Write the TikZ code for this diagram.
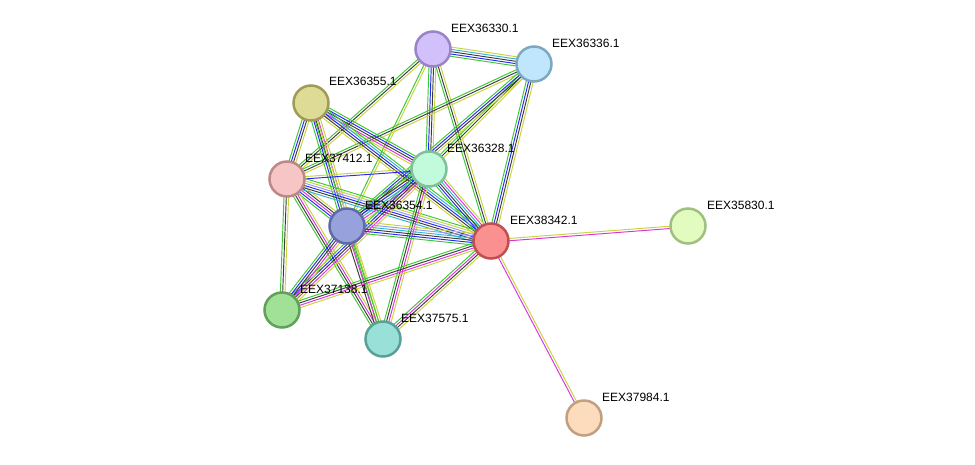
\documentclass[tikz,border=0pt]{standalone}
\usepackage{fontspec}
\setmainfont{Liberation Sans}
\usetikzlibrary{calc}
\definecolor{sg}{RGB}{60,200,50}
\definecolor{sb}{RGB}{40,40,250}
\definecolor{sk}{RGB}{60,60,60}
\definecolor{sy}{RGB}{200,212,60}
\definecolor{sm}{RGB}{220,50,220}
\definecolor{sc}{RGB}{50,180,210}
\definecolor{sl}{RGB}{150,150,255}
\newcommand\stredge[3]{%
  \foreach \cc [count=\ii] in {#3} {\global\let\ncnt\ii}%
  \foreach \cc [count=\ii] in {#3} {%
    \pgfmathsetmacro\off{(\ii-(\ncnt+1)/2)*2.3}%
    \draw[draw=\cc, line width=0.95pt] ($(#1)!\off pt!90:(#2)$) -- ($(#2)!\off pt!-90:(#1)$);
  }%
}
\tikzset{
  prot/.style={circle, line width=2.5pt, minimum size=35pt, inner sep=0pt},
  lbl/.style={anchor=west, font=\fontsize{12}{14}\selectfont, inner sep=0pt, text=black}
}
\begin{document}
\begin{tikzpicture}[x=1pt,y=-1pt]
\useasboundingbox (0,0) rectangle (975,464);
\fill[white] (0,0) rectangle (975,464);
\coordinate (A) at (433,49);
\coordinate (B) at (534,64);
\coordinate (C) at (311,103);
\coordinate (D) at (287,179);
\coordinate (E) at (429,169);
\coordinate (F) at (347,226);
\coordinate (G) at (491,241);
\coordinate (H) at (688,226);
\coordinate (I) at (282,310);
\coordinate (J) at (383,339);
\coordinate (K) at (584,418);
% edges
\stredge{A}{B}{sg,sb,sk,sc,sy}
\stredge{A}{D}{sg,sk,sy}
\stredge{A}{F}{sg,sy}
\stredge{A}{E}{sg,sb,sk,sy}
\stredge{A}{G}{sg,sk,sy}
\stredge{B}{D}{sg,sk,sy}
\stredge{B}{E}{sg,sk,sy}
\stredge{B}{F}{sg,sb,sk,sy}
\stredge{B}{G}{sg,sb,sk,sy}
\stredge{C}{D}{sg,sb,sk,sy}
\stredge{C}{F}{sg,sb,sk,sm,sy}
\stredge{C}{E}{sy,sm,sk,sb,sg}
\stredge{C}{G}{sy,sk,sb,sc,sg}
\stredge{C}{J}{sg,sy}
\stredge{D}{E}{sb,sy}
\stredge{D}{F}{sg,sb,sm,sk,sy}
\stredge{D}{G}{sc,sk,sb,sl,sy,sg}
\stredge{D}{I}{sg,sk,sy}
\stredge{D}{J}{sg,sk,sm,sy}
\stredge{E}{F}{sg,sk,sb,sc,sm,sy}
\stredge{E}{G}{sg,sb,sk,sc,sm,sy}
\stredge{E}{I}{sg,sb,sk,sm,sy}
\stredge{E}{J}{sg,sk,sm,sy}
\stredge{F}{G}{sg,sb,sk,sc,sl,sy}
\stredge{F}{I}{sg,sb,sk,sm,sy}
\stredge{F}{J}{sk,sm,sg,sy}
\stredge{G}{I}{sg,sk,sm,sy}
\stredge{G}{J}{sg,sm,sk,sy}
\stredge{G}{H}{sm,sy}
\stredge{G}{K}{sm,sy}
% nodes
\node[prot, fill={rgb,255:red,210;green,192;blue,250}, draw={rgb,255:red,154;green,132;blue,199}] (nA) at (A) {};
\node[prot, fill={rgb,255:red,192;green,230;blue,251}, draw={rgb,255:red,125;green,168;blue,196}] (nB) at (B) {};
\node[prot, fill={rgb,255:red,222;green,219;blue,150}, draw={rgb,255:red,160;green,156;blue,88}] (nC) at (C) {};
\node[prot, fill={rgb,255:red,246;green,198;blue,198}, draw={rgb,255:red,190;green,136;blue,136}] (nD) at (D) {};
\node[prot, fill={rgb,255:red,194;green,251;blue,220}, draw={rgb,255:red,128;green,192;blue,154}] (nE) at (E) {};
\node[prot, fill={rgb,255:red,151;green,162;blue,220}, draw={rgb,255:red,95;green,106;blue,168}] (nF) at (F) {};
\node[prot, fill={rgb,255:red,251;green,144;blue,144}, draw={rgb,255:red,192;green,80;blue,80}] (nG) at (G) {};
\node[prot, fill={rgb,255:red,226;green,252;blue,192}, draw={rgb,255:red,160;green,192;blue,128}] (nH) at (H) {};
\node[prot, fill={rgb,255:red,160;green,224;blue,151}, draw={rgb,255:red,96;green,160;blue,88}] (nI) at (I) {};
\node[prot, fill={rgb,255:red,152;green,224;blue,216}, draw={rgb,255:red,88;green,160;blue,152}] (nJ) at (J) {};
\node[prot, fill={rgb,255:red,252;green,220;blue,188}, draw={rgb,255:red,192;green,160;blue,128}] (nK) at (K) {};
% labels
\node[lbl] (tA) at ($(A)+(18,-21)$) {EEX36330.1};
\node[lbl] (tB) at ($(B)+(18,-21)$) {EEX36336.1};
\node[lbl] (tC) at ($(C)+(18,-22)$) {EEX36355.1};
\node[lbl] (tD) at ($(D)+(18,-21)$) {EEX37412.1};
\node[lbl] (tE) at ($(E)+(18,-21)$) {EEX36328.1};
\node[lbl] (tF) at ($(F)+(18,-21)$) {EEX36354.1};
\node[lbl] (tG) at ($(G)+(19,-21)$) {EEX38342.1};
\node[lbl] (tH) at ($(H)+(19,-21)$) {EEX35830.1};
\node[lbl] (tI) at ($(I)+(18,-21)$) {EEX37138.1};
\node[lbl] (tJ) at ($(J)+(18,-21)$) {EEX37575.1};
\node[lbl] (tK) at ($(K)+(18,-21)$) {EEX37984.1};
\end{tikzpicture}
\end{document}
